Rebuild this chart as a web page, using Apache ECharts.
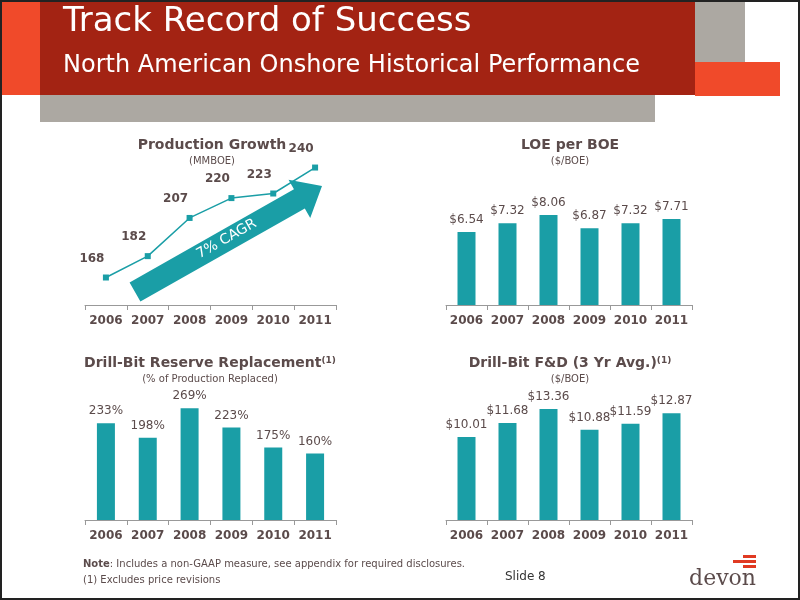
<!DOCTYPE html>
<html><head><meta charset="utf-8">
<script src="https://cdn.jsdelivr.net/npm/echarts@6/dist/echarts.min.js"></script>
<style>html,body{margin:0;padding:0;background:#fff}#c{width:800px;height:600px}</style>
</head><body><div id="c"></div>
<script>
const years = ['2006','2007','2008','2009','2010','2011'];
const production = [168,182,207,220,223,240];
const loe = [6.54,7.32,8.06,6.87,7.32,7.71];
const reserveRepl = [233,198,269,223,175,160];
const fd = [10.01,11.68,13.36,10.88,11.59,12.87];

const F = '"DejaVu Sans",sans-serif';
const TXT = '#5b4b4b', TEAL = '#1a9ea6';
const chart = echarts.init(document.getElementById('c'));

function xAx(i){return {type:'category',gridIndex:i,data:years,
  axisLine:{lineStyle:{color:'#999'}},axisTick:{show:true,lineStyle:{color:'#999'},length:5},
  axisLabel:{interval:0,color:TXT,fontFamily:F,fontWeight:'bold',fontSize:12,margin:10}};}
function yAx(i,min,max){return {type:'value',gridIndex:i,min:min,max:max,show:false,splitLine:{show:false}};}
const lbl = (fmt)=>({show:true,position:'top',color:TXT,fontFamily:F,fontSize:12,distance:6,formatter:fmt});

const a0=[135,292], a1=[322,186];
const dx=a1[0]-a0[0], dy=a1[1]-a0[1], L=Math.hypot(dx,dy), ux=dx/L, uy=dy/L, nx=-uy, ny=ux;
const hw=11, hh=22, hl=26;
const pt=(t,n)=>[a0[0]+ux*t+nx*n, a0[1]+uy*t+ny*n];
const arrowPts=[pt(0,hw),pt(L-hl,hw),pt(L-hl,hh),pt(L,0),pt(L-hl,-hh),pt(L-hl,-hw),pt(0,-hw)];
const ang=Math.atan2(-dy,dx);

chart.setOption({
  animation:false,
  textStyle:{fontFamily:F},
  grid:[
    {left:85,width:251,top:137,height:168},
    {left:446,width:246,top:171,height:134},
    {left:85,width:251,top:354,height:166},
    {left:446,width:246,top:354,height:166}
  ],
  xAxis:[xAx(0),xAx(1),xAx(2),xAx(3)],
  yAxis:[yAx(0,150,260),yAx(1,0,12),yAx(2,0,400),yAx(3,0,20)],
  series:[
    {type:'line',xAxisIndex:0,yAxisIndex:0,data:production,symbol:'rect',symbolSize:6,
     lineStyle:{color:TEAL,width:1.5},itemStyle:{color:TEAL},
     label:Object.assign(lbl('{c}'),{fontWeight:'bold',distance:10,offset:[-14,0]}),z:5},
    {type:'bar',xAxisIndex:1,yAxisIndex:1,data:loe,barWidth:18,itemStyle:{color:TEAL},
     label:lbl(p=>'$'+p.value.toFixed(2))},
    {type:'bar',xAxisIndex:2,yAxisIndex:2,data:reserveRepl,barWidth:18,itemStyle:{color:TEAL},
     label:lbl('{c}%')},
    {type:'bar',xAxisIndex:3,yAxisIndex:3,data:fd,barWidth:18,itemStyle:{color:TEAL},
     label:lbl(p=>'$'+p.value.toFixed(2))}
  ],
  graphic:[
    {type:'rect',shape:{x:0,y:0,width:40,height:95},style:{fill:'#f04a2a'}},
    {type:'rect',shape:{x:695,y:0,width:50,height:62},style:{fill:'#aca8a2'}},
    {type:'rect',shape:{x:695,y:62,width:85,height:34},style:{fill:'#f04a2a'}},
    {type:'rect',shape:{x:40,y:95,width:615,height:27},style:{fill:'#aca8a2'}},
    {type:'rect',shape:{x:40,y:0,width:655,height:95},style:{fill:'#a32313'}},
    {type:'text',left:63,top:5,style:{text:'Track Record of Success',fill:'#fff',font:'34px '+F}},
    {type:'text',left:63,top:54,style:{text:'North American Onshore Historical Performance',fill:'#fff',font:'24px '+F}},
    {type:'rect',shape:{x:1,y:1,width:798,height:598},style:{fill:null,stroke:'#222',lineWidth:2},silent:true,z:100},
    {type:'text',x:212,y:138,style:{text:'Production Growth',fill:TXT,font:'bold 14px '+F,align:'center'}},
    {type:'text',x:212,y:156,style:{text:'(MMBOE)',fill:TXT,font:'10px '+F,align:'center'}},
    {type:'text',x:570,y:138,style:{text:'LOE per BOE',fill:TXT,font:'bold 14px '+F,align:'center'}},
    {type:'text',x:570,y:156,style:{text:'($/BOE)',fill:TXT,font:'10px '+F,align:'center'}},
    {type:'text',x:210,y:356,style:{text:'{t|Drill-Bit Reserve Replacement}{s|(1)}',align:'center',
      rich:{t:{fill:TXT,font:'bold 14px '+F},s:{fill:TXT,font:'bold 9px '+F,verticalAlign:'top'}}}},
    {type:'text',x:210,y:374,style:{text:'(% of Production Replaced)',fill:TXT,font:'10px '+F,align:'center'}},
    {type:'text',x:570,y:356,style:{text:'{t|Drill-Bit F&D (3 Yr Avg.)}{s|(1)}',align:'center',
      rich:{t:{fill:TXT,font:'bold 14px '+F},s:{fill:TXT,font:'bold 9px '+F,verticalAlign:'top'}}}},
    {type:'text',x:570,y:374,style:{text:'($/BOE)',fill:TXT,font:'10px '+F,align:'center'}},
    {type:'polygon',shape:{points:arrowPts},style:{fill:TEAL},z:1},
    {type:'text',x:(a0[0]+a1[0])/2-2,y:(a0[1]+a1[1])/2,rotation:ang,
     style:{text:'7% CAGR',fill:'#fff',font:'14px '+F,align:'center',verticalAlign:'middle'},z:2},
    {type:'text',left:83,top:559,style:{text:'{b|Note}: Includes a non-GAAP measure, see appendix for required disclosures.',
      rich:{b:{font:'bold 10px '+F,fill:TXT}},fill:TXT,font:'10px '+F}},
    {type:'text',left:83,top:575,style:{text:'(1) Excludes price revisions',fill:TXT,font:'10px '+F}},
    {type:'text',left:505,top:571,style:{text:'Slide 8',fill:'#333',font:'12px '+F}},
    {type:'rect',shape:{x:743,y:555,width:13,height:3},style:{fill:'#e03a22'}},
    {type:'rect',shape:{x:733,y:560,width:23,height:3},style:{fill:'#e03a22'}},
    {type:'rect',shape:{x:743,y:565,width:13,height:3},style:{fill:'#e03a22'}},
    {type:'text',x:756,y:568,style:{text:'devon',fill:'#5b4b4b',font:'22px "DejaVu Serif",serif',align:'right'}}
  ]
});
</script></body></html>
